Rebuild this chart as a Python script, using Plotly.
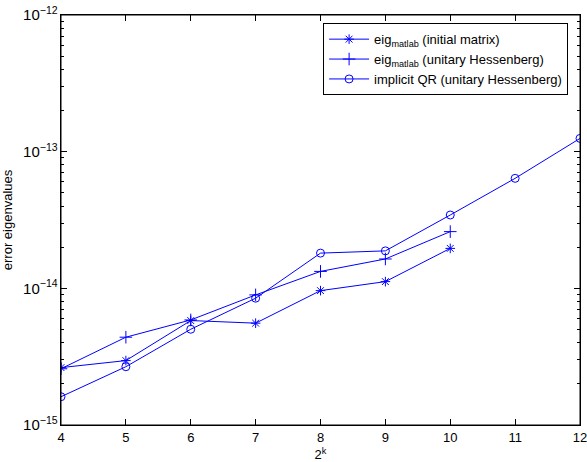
import plotly.graph_objects as go

k_init = [4, 5, 6, 7, 8, 9, 10]
err_init = [2.63e-15, 2.96e-15, 5.81e-15, 5.56e-15, 9.62e-15, 1.12e-14, 1.96e-14]

k_hess = [4, 5, 6, 7, 8, 9, 10]
err_hess = [2.58e-15, 4.39e-15, 5.87e-15, 8.95e-15, 1.33e-14, 1.64e-14, 2.60e-14]

k_qr = [4, 5, 6, 7, 8, 9, 10, 11, 12]
err_qr = [1.61e-15, 2.67e-15, 5.02e-15, 8.47e-15, 1.81e-14, 1.88e-14, 3.44e-14, 6.38e-14, 1.25e-13]

names = ["eig<sub>matlab</sub> (initial matrix)",
         "eig<sub>matlab</sub> (unitary Hessenberg)",
         "implicit QR (unitary Hessenberg)"]

blue = "rgb(0,0,255)"
font = "Liberation Sans, Arial, Helvetica, sans-serif"

fig = go.Figure()
fig.add_trace(go.Scatter(x=k_init, y=err_init, mode="lines+markers", name=names[0],
                         line=dict(color=blue, width=1),
                         marker=dict(symbol="asterisk-open", size=8, color=blue,
                                     line=dict(color=blue, width=1))))
fig.add_trace(go.Scatter(x=k_hess, y=err_hess, mode="lines+markers", name=names[1],
                         line=dict(color=blue, width=1),
                         marker=dict(symbol="cross-thin-open", size=9, color=blue,
                                     line=dict(color=blue, width=1))))
fig.add_trace(go.Scatter(x=k_qr, y=err_qr, mode="lines+markers", name=names[2],
                         line=dict(color=blue, width=1),
                         marker=dict(symbol="circle-open", size=8, color=blue,
                                     line=dict(color=blue, width=1))))

# plot-area frame
fig.add_shape(type="rect", xref="x domain", yref="y domain", x0=0, x1=1, y0=0, y1=1,
              line=dict(color="black", width=1), layer="above")

fig.update_layout(
    width=587, height=462,
    margin=dict(l=61, r=7, t=15, b=37),
    paper_bgcolor="white", plot_bgcolor="rgba(0,0,0,0)",
    font=dict(family=font, size=13, color="black"),
    showlegend=True,
    legend=dict(x=0.505, y=0.98, xanchor="left", yanchor="top",
                bordercolor="black", borderwidth=1, bgcolor="white",
                font=dict(size=13), tracegroupgap=0, itemwidth=40),
    xaxis=dict(range=[4, 12], dtick=1, tick0=4, showgrid=False, zeroline=False,
               showline=True, linecolor="black", linewidth=1, mirror="allticks",
               ticks="inside", ticklen=6, tickwidth=1, tickcolor="black",
               automargin=False, ticklabeloverflow="allow",
               title=dict(text="2<sup>k</sup>", font=dict(size=13))),
    yaxis=dict(type="log", range=[-15, -12], dtick=1, exponentformat="power",
               showgrid=False, zeroline=False,
               showline=True, linecolor="black", linewidth=1, mirror="allticks",
               ticks="inside", ticklen=6, tickwidth=1, tickcolor="black",
               automargin=False, tickfont=dict(size=12),
               minor=dict(ticks="inside", ticklen=3, tickwidth=1, tickcolor="black",
                          showgrid=False, dtick="D1"),
               title=dict(text="error eigenvalues", font=dict(size=13))),
)

fig.write_html("out.html", config={"displayModeBar": False},
               post_script="document.body.style.margin='0';document.body.style.overflow='hidden';")
